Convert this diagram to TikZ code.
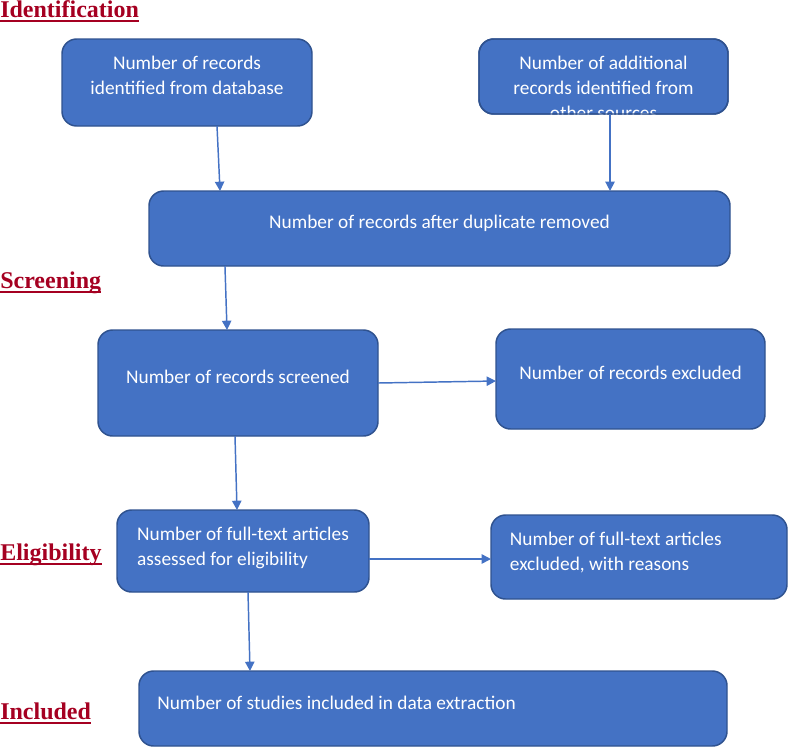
\documentclass[tikz,border=0pt]{standalone}
\usepackage{fontspec}
\setmainfont{Liberation Serif}
\newfontfamily\boxfont{Carlito}
\newsavebox{\stagebin}
\newcommand{\stageul}[1]{\sbox{\stagebin}{#1}\rlap{\vrule width\wd\stagebin height -2.3pt depth 3.8pt}\usebox{\stagebin}}
\usepackage{xcolor}
\usepackage{tikz}
\usetikzlibrary{arrows.meta}
\definecolor{boxblue}{HTML}{4472C4}
\definecolor{boxedge}{HTML}{2F528F}
\definecolor{stagered}{HTML}{A50021}

\begin{document}
\begin{tikzpicture}[x=0.75pt,y=-0.75pt,
    stagebox/.style={draw=boxedge,line width=1.1pt,fill=boxblue,rounded corners=11pt,inner sep=0pt,outer sep=0pt},
    boxtext/.style={text=white,font=\boxfont\fontsize{14.5}{18.75}\selectfont,inner sep=0pt},
    stagelabel/.style={text=stagered,font=\bfseries\fontsize{18}{21}\selectfont,anchor=base west,inner sep=0pt},
    flowarrow/.style={boxblue,line width=1.1pt,-{Triangle[length=7pt,width=7pt]}}]
      \useasboundingbox (0,0) rectangle (788,747);
      \node[stagelabel] (ident) at (0,17) {\stageul{Identification}};
      \node[stagelabel] (screen) at (0,288) {\stageul{Screening}};
      \node[stagelabel] (elig) at (0,560) {\stageul{Eligibility}};
      \node[stagelabel] (incl) at (0,719) {\stageul{Included}};
      \node[stagebox,minimum width=187.5pt,minimum height=65.25pt,
        label={[boxtext,align=center,yshift=5pt]center:{Number of records\\identified from database}}] (dbrec) at (187,82.5) {};
      \node[stagebox,minimum width=186.75pt,minimum height=56.25pt,
        label={[boxtext,align=center,yshift=-8.8pt]center:{Number of additional\\records identified from\\other sources}}] (otherrec) at (603.5,76.5) {};
      \draw[boxedge,line width=1.1pt,rounded corners=11pt] (otherrec.south west) rectangle (otherrec.north east);
      \node[stagebox,minimum width=435.75pt,minimum height=56.25pt,
        label={[boxtext,yshift=3.6pt]center:Number of records after duplicate removed}] (dedup) at (439.5,228.5) {};
      \node[stagebox,minimum width=210pt,minimum height=79.5pt,
        label={[boxtext,yshift=4.5pt]center:Number of records screened}] (screened) at (238,383) {};
      \node[stagebox,minimum width=201.75pt,minimum height=75pt,
        label={[boxtext,yshift=4.8pt]center:Number of records excluded}] (excl) at (630.5,379) {};
      \node[stagebox,minimum width=189pt,minimum height=61.5pt,
        label={[boxtext,align=left,yshift=2.2pt]center:{Number of full-text articles\\assessed for eligibility}}] (fulltext) at (243,551) {};
      \node[stagebox,minimum width=222pt,minimum height=63pt,
        label={[boxtext,align=left,anchor=west,xshift=14pt,yshift=3pt]west:{Number of full-text articles\\excluded, with reasons}}] (fullexcl) at (639,557) {};
      \node[stagebox,minimum width=441pt,minimum height=56.25pt,
        label={[boxtext,anchor=west,xshift=13.5pt,yshift=4.2pt]west:Number of studies included in data extraction}] (studies) at (433,708.5) {};
      \draw[flowarrow] ([xshift=22.5pt]dbrec.south) to ([xshift=-164.6pt]dedup.north);
      \draw[flowarrow] ([xshift=4.9pt]otherrec.south) to ([xshift=127.9pt]dedup.north);
      \draw[flowarrow] ([xshift=-160.9pt]dedup.south) to ([xshift=-8.25pt]screened.north);
      \draw[flowarrow] (screened.east) to ([yshift=-1.5pt]excl.west);
      \draw[flowarrow] ([xshift=-2.25pt]screened.south) to ([xshift=-4.5pt]fulltext.north);
      \draw[flowarrow] ([yshift=-6pt]fulltext.east) to ([yshift=-1.5pt]fullexcl.west);
      \draw[flowarrow] ([xshift=3.75pt]fulltext.south) to ([xshift=-137.25pt]studies.north);
    \end{tikzpicture}
\end{document}
